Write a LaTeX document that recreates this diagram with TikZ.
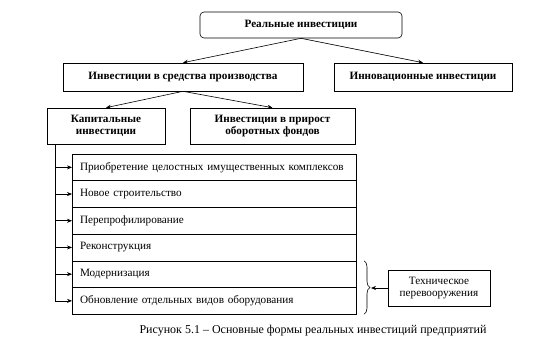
\documentclass[tikz,border=0pt]{standalone}
\usepackage{fontspec}
\setmainfont{Liberation Serif}
\usetikzlibrary{arrows.meta, positioning, calc, decorations.pathreplacing}
\tikzset{
    scheme/.style={>={Stealth[length=5pt,width=4pt]}, line width=0.6pt, font=\fontsize{11.2}{12.5}\selectfont, x=1pt, y=-1pt},
    headbox/.style={draw, fill=white, align=center, inner sep=2pt, font=\fontsize{11.2}{12.5}\selectfont\bfseries},
    rowbox/.style={draw, minimum width=284pt, minimum height=26.7pt, text width=268pt, align=left, inner sep=8pt, outer sep=0pt},
    % brace before the last two rows
    rowbrace/.style={decorate, decoration={brace, amplitude=6pt}},
}
\begin{document}
\begin{tikzpicture}[scheme]
        \useasboundingbox (0,0) rectangle (559,358);
        \node[headbox, rounded corners=4pt, minimum width=202pt, minimum height=26pt] (real) at (301,25) {Реальные инвестиции};
        \node[headbox, minimum width=240pt, minimum height=28pt] (prodinv) at (183,77) {Инвестиции в средства производства};
        \node[headbox, minimum width=178pt, minimum height=28pt] (innov)   at (423,77) {Инновационные инвестиции};
        \node[headbox, minimum width=118pt, minimum height=36pt] (capinv)  at (106,126) {Капитальные\\инвестиции};
        \node[headbox, minimum width=165pt, minimum height=36pt] (fundinv) at (272.5,126) {Инвестиции в прирост\\оборотных фондов};

        \draw[->] (real.south) -- (prodinv.north);
        \draw[->] (real.south) -- (innov.north);
        \draw[->] (prodinv.south) -- (capinv.north);
        \draw[->] (prodinv.south) -- (fundinv.north);

        \node[rowbox, anchor=north west] (r1) at (72,154) {Приобретение целостных имущественных комплексов};
        \node[rowbox, below=0pt of r1] (r2) {Новое строительство};
        \node[rowbox, below=0pt of r2] (r3) {Перепрофилирование};
        \node[rowbox, below=0pt of r3] (r4) {Реконструкция};
        \node[rowbox, below=0pt of r4] (r5) {Модернизация};
        \node[rowbox, below=0pt of r5] (r6) {Обновление отдельных видов оборудования};

        \coordinate (trunk) at ($(capinv.south west)+(9,0)$);
        \draw[->] (trunk) |- (r6.west);
        \foreach \r in {r1,r2,r3,r4,r5}
            \draw[->] (trunk |- \r.west) -- (\r.west);

        \draw[rowbrace] ($(r5.north east)+(8,0)$) -- coordinate[pos=0.5] (bmid) ($(r6.south east)+(8,0)$);
        \coordinate (btip) at ($(bmid)+(7,0)$);

        \node[draw, align=center, minimum width=102pt, minimum height=36pt, inner sep=2pt] (techre) at (439,288) {Техническое\\перевооружения};
        \draw[->] (techre.west) -- (techre.west -| btip);

        \node[font=\fontsize{12}{14}\selectfont] (caption) at (313,331) {Рисунок 5.1 – Основные формы реальных инвестиций предприятий};
    \end{tikzpicture}
\end{document}
